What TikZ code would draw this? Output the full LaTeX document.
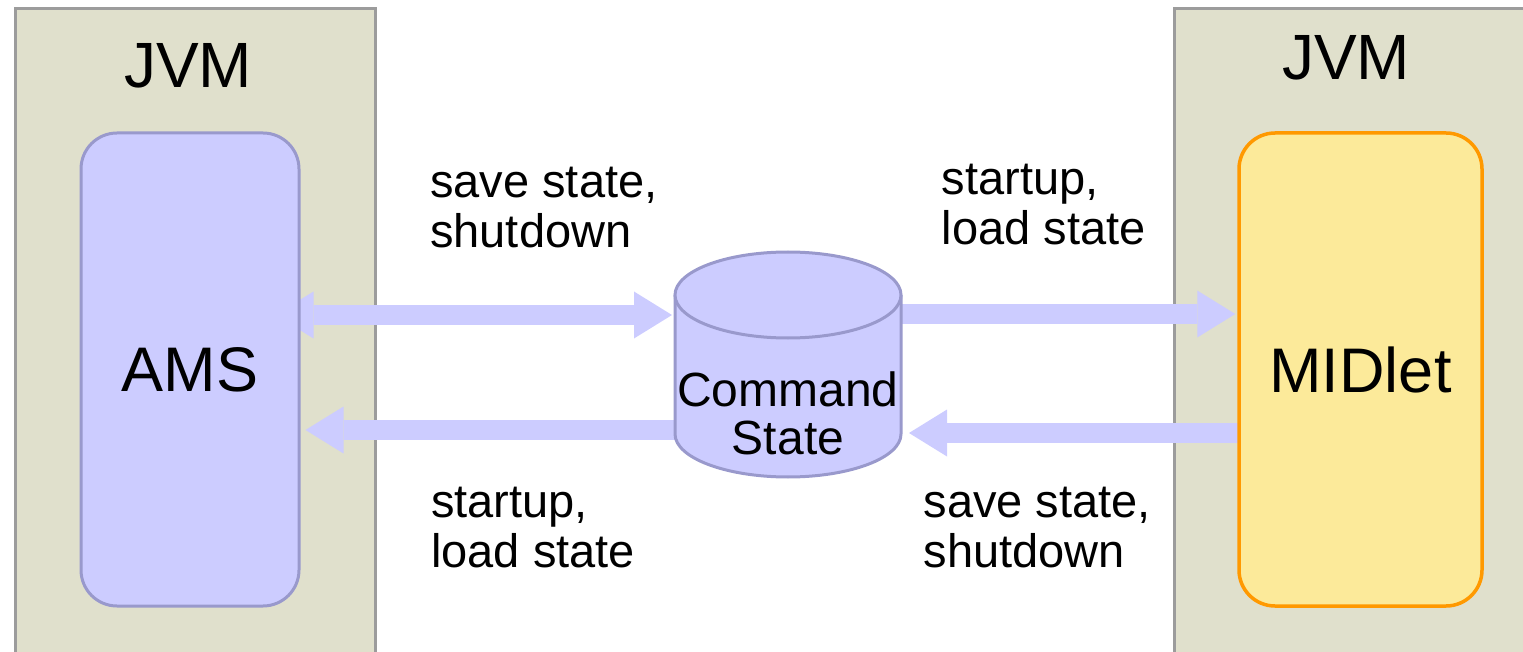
\documentclass[tikz,border=0pt]{standalone}
\usepackage{fontspec}
\setmainfont{Liberation Sans}
\usetikzlibrary{arrows.meta,calc}
\pgfdeclarelayer{bg}
\pgfdeclarelayer{arr}
\pgfsetlayers{bg,arr,main}
\definecolor{jvmfill}{HTML}{E0E0CC}
\definecolor{jvmline}{HTML}{9C9C9C}
\definecolor{lav}{HTML}{CCCCFF}
\definecolor{lavline}{HTML}{9999CC}
\definecolor{midfill}{HTML}{FCEA9A}
\definecolor{midline}{HTML}{FF9900}
\begin{document}
\begin{tikzpicture}[x=1pt,y=-1pt,
  jvmbox/.style={draw=jvmline,fill=jvmfill,line width=3pt,inner sep=0pt,anchor=north west},
  compbox/.style={rounded corners=36pt,line width=3pt,inner sep=0pt,font=\fontsize{63}{70}\selectfont},
  bigtip/.tip={Triangle[length=38pt,width=47pt,line width=0pt]},
  fat/.style={draw=lav,line width=20pt},
  jvmtext/.style={anchor=base,inner sep=0pt,font=\fontsize{64}{70}\selectfont},
  cyltext/.style={anchor=base,inner sep=0pt,font=\fontsize{48}{52}\selectfont},
  lbl/.style={anchor=base west,inner sep=0pt,font=\fontsize{47}{50}\selectfont}]
\useasboundingbox (0,0) rectangle (1523,652);
\clip (0,0) rectangle (1523,652);

% JVM containers
\begin{pgfonlayer}{bg}
  \node[jvmbox,minimum width=360pt,minimum height=720pt] (jvmL) at (13.5,7.5) {};
  \node[jvmbox,minimum width=420pt,minimum height=720pt] (jvmR) at (1172.5,7.5) {};
\end{pgfonlayer}
\node[jvmtext] (jvmLt) at (188,88) {JVM};
\node[jvmtext] (jvmRt) at (1346,80) {JVM};

% components
\node[compbox,draw=lavline,fill=lav,minimum width=218pt,minimum height=473pt] (ams) at (190,369.5) {AMS};
\node[compbox,draw=midline,fill=midfill,line width=3.5pt,minimum width=243pt,minimum height=473pt] (mid) at (1360.5,369.5) {MIDlet};

% cylinder
\coordinate (cyltop) at (788,295);
\coordinate (cylbot) at (788,434);
\coordinate (cylL) at (675,364.5);
\coordinate (cylR) at (901,364.5);
\fill[lav] (675,295) rectangle (901,434);
\fill[lav] (cylbot) ellipse[x radius=113,y radius=43];
\draw[lavline,line width=3pt] (675,295) -- (675,434) arc[start angle=180,end angle=0,x radius=113,y radius=43] -- (901,295);
\draw[lavline,fill=lav,line width=3pt] (cyltop) ellipse[x radius=113,y radius=43];
\node[cyltext] (cmd) at (788,406.7) {Command};
\node[cyltext] (st) at (788,454) {State};

% arrows
\begin{pgfonlayer}{arr}
  \draw[fat,bigtip-bigtip] ($(ams.east)+(-25,-54.5)$) -- ($(cylL)+(-3,-49.5)$);
  \draw[fat,-bigtip] ($(cylL)+(30,65.5)$) -- ($(ams.east)+(5,60.5)$);
  \draw[fat,-bigtip] ($(cylR)+(-30,-50.5)$) -- ($(mid.west)+(-2,-55.5)$);
  \draw[fat,-bigtip] ($(mid.west)+(30,63.5)$) -- ($(cylR)+(8,68.5)$);
\end{pgfonlayer}

% labels
\node[lbl] (tl1) at (430,198) {save state,};
\node[lbl] (tl2) at (430,248) {shutdown};
\node[lbl] (tr1) at (941.5,194.5) {startup,};
\node[lbl] (tr2) at (941.5,244.5) {load state};
\node[lbl] (bl1) at (431,517.5) {startup,};
\node[lbl] (bl2) at (431,567.5) {load state};
\node[lbl] (br1) at (923.5,517.5) {save state,};
\node[lbl] (br2) at (923.5,567.5) {shutdown};
\end{tikzpicture}
\end{document}
